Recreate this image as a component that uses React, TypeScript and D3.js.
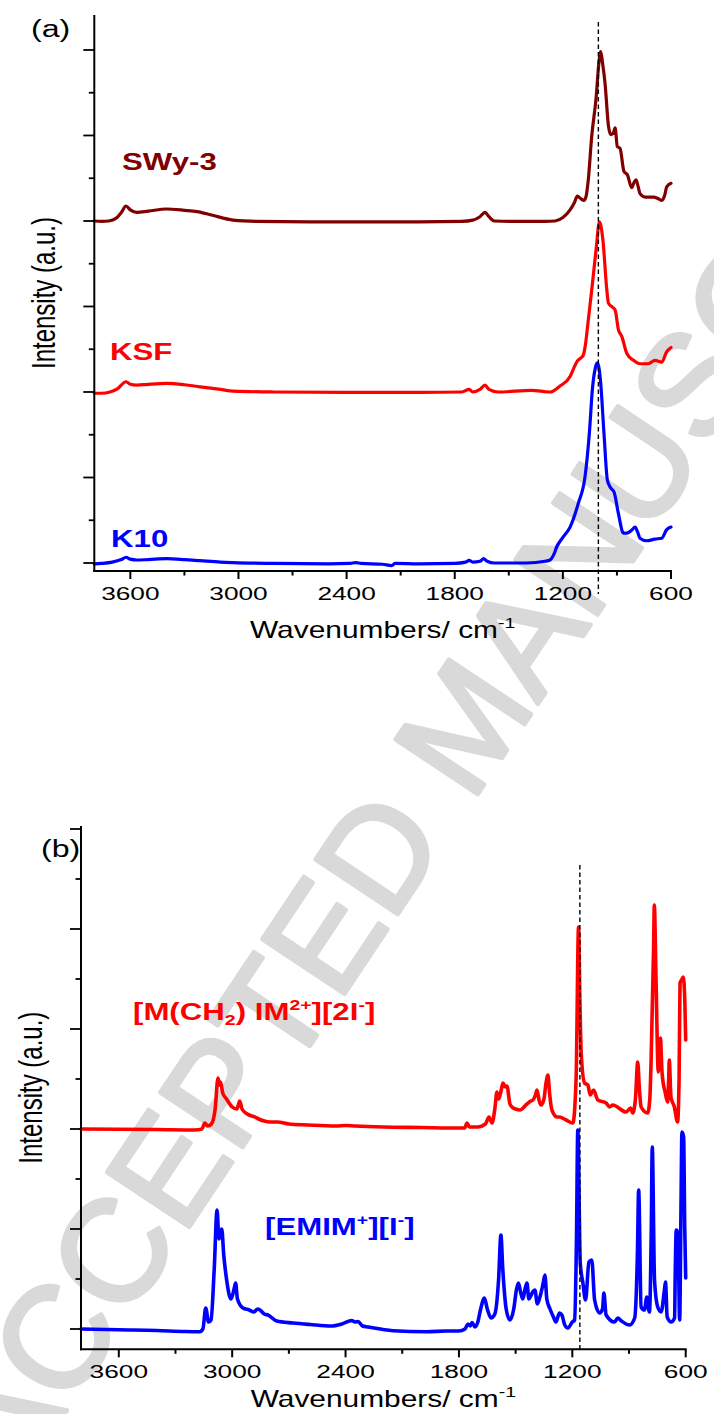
import React from "react";
import * as d3 from "d3";

// ---------- data (wavenumber cm^-1, intensity in tick units) ----------
const swy3: [number, number][] = [
  [3800, 4.0], [3760, 3.995], [3720, 4.0], [3680, 4.03], [3650, 4.1], [3624, 4.175], [3600, 4.13], [3565, 4.1],
  [3500, 4.115], [3400, 4.14], [3300, 4.125], [3230, 4.11], [3150, 4.07], [3030, 4.01], [2900, 3.995], [2600, 3.99],
  [2300, 3.99], [2000, 3.99], [1760, 3.995], [1700, 4.01], [1660, 4.05], [1632, 4.1], [1610, 4.05], [1580, 4.0],
  [1450, 3.995], [1300, 3.995], [1243, 4.0], [1200, 4.04], [1160, 4.13], [1135, 4.22], [1120, 4.29], [1100, 4.26],
  [1083, 4.24], [1070, 4.3], [1059, 4.48], [1040, 4.99], [1016, 5.43], [1000, 5.85], [990, 5.98], [980, 5.85],
  [966, 5.61], [947, 5.11], [934, 5.01], [920, 5.03], [910, 5.09], [898, 4.87], [883, 4.85], [861, 4.58], [842, 4.54],
  [818, 4.39], [805, 4.45], [794, 4.48], [782, 4.4], [772, 4.32], [744, 4.28], [698, 4.28], [670, 4.26], [651, 4.24],
  [635, 4.3], [624, 4.4], [600, 4.44],
];
const ksf: [number, number][] = [
  [3800, 1.985], [3760, 1.985], [3713, 2.0], [3670, 2.04], [3624, 2.12], [3600, 2.09], [3565, 2.08], [3500, 2.09],
  [3398, 2.1], [3300, 2.085], [3213, 2.06], [3100, 2.03], [3030, 2.01], [2800, 2.0], [2400, 1.995], [2000, 1.995],
  [1760, 2.0], [1720, 2.03], [1700, 2.0], [1660, 2.03], [1632, 2.08], [1610, 2.03], [1560, 2.0], [1373, 2.02],
  [1271, 2.0], [1216, 2.07], [1160, 2.18], [1135, 2.3], [1120, 2.36], [1100, 2.4], [1087, 2.43], [1075, 2.55],
  [1059, 2.84], [1040, 3.19], [1016, 3.66], [997, 3.99], [978, 3.78], [956, 3.19], [947, 3.04], [930, 3.0],
  [910, 2.96], [892, 2.73], [873, 2.65], [845, 2.45], [808, 2.37], [772, 2.33], [726, 2.33], [689, 2.37],
  [651, 2.35], [624, 2.47], [600, 2.52],
];
const k10: [number, number][] = [
  [3800, -0.01], [3760, -0.005], [3700, 0.01], [3650, 0.04], [3624, 0.067], [3600, 0.045], [3565, 0.035], [3500, 0.04],
  [3398, 0.05], [3300, 0.04], [3213, 0.027], [3100, 0.01], [3030, 0.004], [2800, -0.005], [2500, -0.01], [2380, -0.005],
  [2350, 0.005], [2320, -0.005], [2200, -0.015], [2150, -0.03], [2130, -0.005], [2000, -0.01], [1800, -0.005],
  [1740, 0.01], [1720, 0.03], [1700, 0.01], [1660, 0.02], [1640, 0.05], [1620, 0.02], [1580, 0.0], [1400, 0.0],
  [1300, 0.02], [1271, 0.035], [1250, 0.1], [1234, 0.19], [1200, 0.3], [1160, 0.42], [1114, 0.7], [1077, 1.01],
  [1053, 1.52], [1035, 2.06], [1020, 2.28], [1009, 2.34], [998, 2.26], [990, 2.1], [972, 1.52], [953, 0.97],
  [935, 0.88], [916, 0.83], [892, 0.58], [864, 0.35], [845, 0.35], [820, 0.38], [799, 0.42], [785, 0.36],
  [772, 0.29], [735, 0.26], [689, 0.28], [651, 0.29], [624, 0.39], [600, 0.42],
];
const mch2im: [number, number][] = [
  [3800, 2.0], [3400, 1.995], [3200, 1.99], [3160, 2.0], [3145, 2.06], [3130, 2.03], [3110, 2.05], [3090, 2.2],
  [3075, 2.51], [3068, 2.44], [3062, 2.47], [3050, 2.36], [3030, 2.3], [3000, 2.22], [2975, 2.2], [2960, 2.28],
  [2948, 2.2], [2920, 2.15], [2880, 2.12], [2860, 2.1], [2830, 2.08], [2800, 2.07], [2760, 2.07], [2700, 2.05],
  [2600, 2.04], [2450, 2.03], [2400, 2.035], [2350, 2.03], [2200, 2.02], [2000, 2.015], [1850, 2.01], [1770, 2.01],
  [1757, 2.06], [1745, 2.02], [1700, 2.02], [1660, 2.05], [1641, 2.12], [1625, 2.06], [1610, 2.2], [1599, 2.37],
  [1590, 2.3], [1575, 2.4], [1567, 2.46], [1555, 2.42], [1546, 2.43], [1530, 2.25], [1519, 2.22], [1500, 2.2],
  [1477, 2.19], [1440, 2.25], [1420, 2.28], [1408, 2.29], [1395, 2.34], [1387, 2.39], [1375, 2.28], [1366, 2.24],
  [1350, 2.3], [1340, 2.45], [1329, 2.54], [1320, 2.35], [1308, 2.19], [1280, 2.12], [1268, 2.12], [1233, 2.09],
  [1197, 2.06], [1180, 2.5], [1167, 4.02], [1160, 3.3], [1153, 2.76], [1135, 2.46], [1118, 2.44], [1105, 2.34],
  [1088, 2.39], [1065, 2.29], [1021, 2.26], [1003, 2.22], [986, 2.24], [915, 2.17], [892, 2.21], [880, 2.16],
  [866, 2.3], [854, 2.67], [845, 2.4], [836, 2.22], [801, 2.16], [790, 2.3], [783, 2.69], [770, 3.8], [766, 4.24],
  [757, 3.49], [745, 2.57], [734, 2.91], [725, 2.56], [708, 2.36], [696, 2.27], [690, 2.5], [687, 2.69], [678, 2.32],
  [660, 2.22], [643, 2.07], [635, 2.5], [630, 3.46], [622, 3.49], [613, 3.52], [605, 3.3], [600, 2.89],
];
const emim: [number, number][] = [
  [3800, 0.0], [3600, -0.008], [3400, -0.015], [3250, -0.025], [3172, -0.027], [3155, 0.0], [3140, 0.21], [3125, 0.07],
  [3112, 0.09], [3095, 0.6], [3080, 1.19], [3070, 0.9], [3063, 0.95], [3055, 1.0], [3045, 0.75], [3030, 0.5],
  [3006, 0.3], [2990, 0.4], [2982, 0.46], [2972, 0.3], [2943, 0.21], [2910, 0.19], [2885, 0.17], [2865, 0.2],
  [2853, 0.19], [2830, 0.15], [2811, 0.14], [2764, 0.08], [2678, 0.06], [2588, 0.045], [2477, 0.03], [2420, 0.05],
  [2367, 0.085], [2350, 0.07], [2334, 0.075], [2310, 0.03], [2281, 0.02], [2149, -0.017], [1969, -0.027],
  [1870, -0.02], [1800, -0.02], [1768, 0.0], [1752, 0.05], [1740, 0.03], [1731, 0.065], [1715, 0.02], [1700, 0.07],
  [1685, 0.2], [1665, 0.31], [1650, 0.2], [1630, 0.11], [1610, 0.15], [1590, 0.5], [1578, 0.94], [1568, 0.6],
  [1550, 0.2], [1530, 0.09], [1510, 0.2], [1495, 0.4], [1485, 0.46], [1475, 0.38], [1462, 0.3], [1450, 0.4],
  [1440, 0.46], [1430, 0.3], [1420, 0.33], [1410, 0.37], [1398, 0.39], [1385, 0.25], [1370, 0.33], [1355, 0.45],
  [1345, 0.54], [1335, 0.3], [1318, 0.2], [1300, 0.12], [1287, 0.07], [1268, 0.16], [1255, 0.14], [1240, 0.04],
  [1223, 0.01], [1200, 0.07], [1188, 0.09], [1178, 0.9], [1171, 1.99], [1158, 0.66], [1144, 0.46], [1130, 0.29],
  [1112, 0.67], [1097, 0.69], [1082, 0.29], [1056, 0.16], [1040, 0.2], [1033, 0.36], [1021, 0.14], [977, 0.07],
  [959, 0.11], [940, 0.08], [897, 0.04], [870, 0.11], [855, 0.8], [849, 1.39], [836, 0.22], [818, 0.19], [806, 0.32],
  [792, 0.17], [782, 1.0], [777, 1.82], [765, 0.49], [748, 0.22], [730, 0.17], [712, 0.4], [707, 0.47], [698, 0.12],
  [677, 0.07], [659, 0.11], [655, 0.6], [650, 0.99], [641, 0.96], [632, 0.09], [625, 1.2], [620, 1.97], [611, 1.92],
  [605, 1.0], [600, 0.51],
];

const xTicksMajor = [3600, 3000, 2400, 1800, 1200, 600];
const xTicksMinor = [3300, 2700, 2100, 1500, 900];
const yMajorA = [0, 1, 2, 3, 4, 5, 6];
const yMinorA = [0.5, 1.5, 2.5, 3.5, 4.5, 5.5];
const yMajorB = [0, 1, 2, 3, 4, 5];
const yMinorB = [0.5, 1.5, 2.5, 3.5, 4.5];
const dashA = 1003;
const dashB = 1160;

const FONT = "'Liberation Sans', Arial, Helvetica, sans-serif";

function ST(props: any) {
  const { x, y, sx = 1, size, weight = "normal", fill = "#000", anchor = "start", rotate, children } = props;
  const tr = `translate(${x},${y}) scale(${sx},1)` + (rotate ? ` rotate(${rotate})` : "");
  return (
    <text transform={tr} fontSize={size} fontWeight={weight} fill={fill} textAnchor={anchor} fontFamily={FONT}>
      {children}
    </text>
  );
}

function Panel(props: any) {
  const { x0, x1, y0, y1, yDom, yMaj, yMin, series, dashW, dashTop, dashBot, labelY, titleY, ytitleX, tag, tagX, tagY } = props;
  const xs = d3.scaleLinear().domain([3800, 600]).range([x0, x1]);
  const ys = d3.scaleLinear().domain(yDom).range([y1, y0]);
  const line = d3.line<[number, number]>().x((d) => xs(d[0])).y((d) => ys(d[1])).curve(d3.curveMonotoneX);
  return (
    <g>
      {series.map((s: any, i: number) => (
        <path key={i} d={line(s.data) || ""} fill="none" stroke={s.color} strokeWidth={s.width} strokeLinejoin="round" strokeLinecap="round" />
      ))}
      <line x1={xs(dashW)} x2={xs(dashW)} y1={dashTop} y2={dashBot} stroke="#000" strokeWidth={1.4} strokeDasharray="4.5,3" />
      {/* axes */}
      <line x1={x0} x2={x0} y1={y0} y2={y1 + 1} stroke="#000" strokeWidth={2} />
      <line x1={x0 - 1} x2={x1 + 1} y1={y1} y2={y1} stroke="#000" strokeWidth={2} />
      {xTicksMajor.map((t) => (
        <line key={"xm" + t} x1={xs(t)} x2={xs(t)} y1={y1} y2={y1 + 8} stroke="#000" strokeWidth={2} />
      ))}
      {xTicksMinor.map((t) => (
        <line key={"xn" + t} x1={xs(t)} x2={xs(t)} y1={y1} y2={y1 + 4.5} stroke="#000" strokeWidth={2} />
      ))}
      {yMaj.map((t: number) => (
        <line key={"ym" + t} x1={x0 - 11} x2={x0} y1={ys(t)} y2={ys(t)} stroke="#000" strokeWidth={1.8} />
      ))}
      {yMin.map((t: number) => (
        <line key={"yn" + t} x1={x0 - 5.5} x2={x0} y1={ys(t)} y2={ys(t)} stroke="#000" strokeWidth={1.8} />
      ))}
      {xTicksMajor.map((t) => (
        <ST key={"xl" + t} x={xs(t)} y={labelY} sx={1.42} size={18.5} anchor="middle">
          {t}
        </ST>
      ))}
      <ST x={(x0 + x1) / 2} y={titleY} sx={1.3} size={23} anchor="middle">
        Wavenumbers/ cm<tspan fontSize={15} dy={-10}>-1</tspan>
      </ST>
      <ST x={ytitleX} y={(y0 + y1) / 2} sx={1.35} size={24} anchor="middle" rotate={-90}>
        Intensity (a.u.)
      </ST>
      <ST x={tagX} y={tagY} sx={1.4} size={23}>
        {tag}
      </ST>
    </g>
  );
}

export default function App() {
  const W = 714;
  const H = 1414;
  return (
    <svg width={W} height={H} viewBox={`0 0 ${W} ${H}`} style={{ position: "absolute", left: 0, top: 0, background: "#fff" }}>
      <rect x={0} y={0} width={W} height={H} fill="#fff" />
      <text
        transform="translate(14,1490) rotate(-56.3)"
        fontSize={144}
        fontFamily={FONT}
        fill="#d9d9d9"
        stroke="#d9d9d9"
        strokeWidth={4}
        strokeLinejoin="round"
      >
        ACCEPTED MANUSCRIPT
      </text>
      <Panel
        x0={94.3} x1={671} y0={15} y1={571}
        yDom={[-0.0936, 6.409]} yMaj={yMajorA} yMin={yMinorA}
        series={[
          { data: swy3, color: "#800000", width: 3.2 },
          { data: ksf, color: "#ff0000", width: 3.2 },
          { data: k10, color: "#0000ff", width: 3.2 },
        ]}
        dashW={dashA} dashTop={22} dashBot={594}
        labelY={600} titleY={638} ytitleX={55} tag="(a)" tagX={31} tagY={37}
      />
      <ST x={122} y={170} sx={1.3} size={24} weight="bold" fill="#800000">SWy-3</ST>
      <ST x={110} y={360} sx={1.3} size={24} weight="bold" fill="#ff0000">KSF</ST>
      <ST x={111} y={547} sx={1.3} size={24} weight="bold" fill="#0000ff">K10</ST>
      <Panel
        x0={81} x1={685.7} y0={826} y1={1349.3}
        yDom={[-0.203, 5.03]} yMaj={yMajorB} yMin={yMinorB}
        series={[
          { data: mch2im, color: "#ff0000", width: 3.6 },
          { data: emim, color: "#0000ff", width: 3.6 },
        ]}
        dashW={dashB} dashTop={865} dashBot={1352}
        labelY={1378} titleY={1407} ytitleX={42} tag="(b)" tagX={41} tagY={857}
      />
      <ST x={133} y={1020} sx={1.3} size={24} weight="bold" fill="#ff0000">
        [M(CH<tspan fontSize={15} dy={5}>2</tspan><tspan dy={-5}>) IM</tspan>
        <tspan fontSize={15} dy={-10}>2+</tspan><tspan dy={10}>][2I</tspan>
        <tspan fontSize={15} dy={-10}>-</tspan><tspan dy={10}>]</tspan>
      </ST>
      <ST x={265} y={1235} sx={1.3} size={24} weight="bold" fill="#0000ff">
        [EMIM<tspan fontSize={15} dy={-10}>+</tspan><tspan dy={10}>][I</tspan>
        <tspan fontSize={15} dy={-10}>-</tspan><tspan dy={10}>]</tspan>
      </ST>
    </svg>
  );
}
